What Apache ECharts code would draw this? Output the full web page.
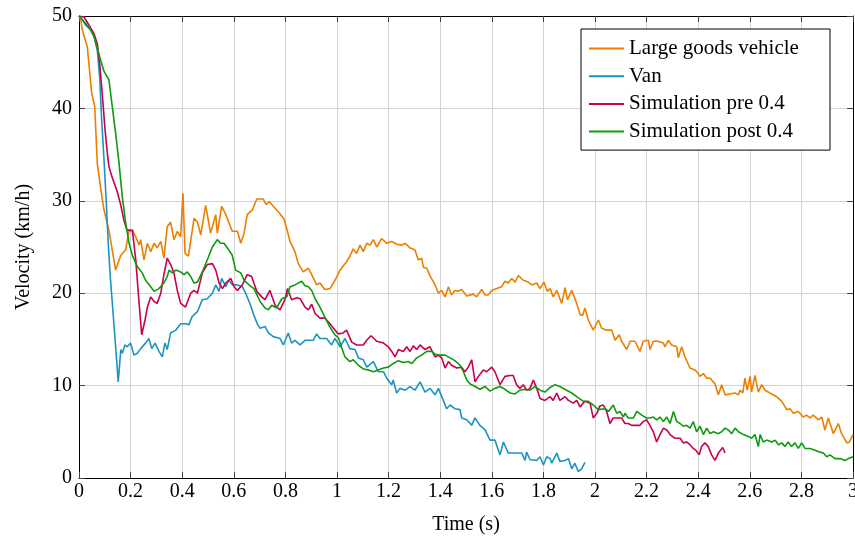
<!DOCTYPE html>
<html>
<head>
<meta charset="utf-8">
<script src="https://cdn.jsdelivr.net/npm/echarts@6/dist/echarts.min.js"></script>
<style>
  html, body { margin: 0; padding: 0; background: #fff; }
  #chart { width: 855px; height: 537px; }
</style>
</head>
<body>
<div id="chart"></div>
<script>
// series names, as in the legend
const seriesNames = ['Large goods vehicle', 'Van', 'Simulation pre 0.4', 'Simulation post 0.4']

// [time (s), velocity (km/h)]
const lgv = [[0, 50], [0.007, 49.6], [0.013, 48.5], [0.032, 46.7], [0.049, 41.7], [0.061, 40.2], [0.071, 34], [0.089, 30.4], [0.097, 29], [0.116, 26.8], [0.142, 22.5], [0.162, 24.1], [0.181, 24.7], [0.194, 26.8], [0.207, 26.8], [0.22, 26.1], [0.233, 25.2], [0.239, 25.8], [0.252, 23.6], [0.265, 25.4], [0.278, 24.5], [0.291, 25.4], [0.303, 24.9], [0.317, 25.6], [0.329, 23.8], [0.342, 27.2], [0.355, 27.7], [0.368, 25.8], [0.381, 26.7], [0.394, 26.1], [0.403, 30.8], [0.411, 24.3], [0.424, 24], [0.446, 28.1], [0.459, 27.7], [0.472, 26.3], [0.491, 29.5], [0.51, 26.5], [0.53, 28.5], [0.536, 26.5], [0.553, 29.4], [0.569, 28.5], [0.594, 26.7], [0.614, 26.7], [0.627, 25.4], [0.64, 26.5], [0.652, 28.5], [0.663, 28.8], [0.672, 29], [0.689, 30.2], [0.7, 30.2], [0.714, 30.2], [0.725, 29.6], [0.738, 29.9], [0.76, 29.2], [0.779, 28.6], [0.795, 28], [0.805, 27], [0.818, 25.6], [0.837, 24.5], [0.85, 23.2], [0.869, 22.3], [0.889, 22.7], [0.902, 22], [0.921, 20.9], [0.934, 21.1], [0.953, 20.4], [0.973, 20.5], [0.992, 21.4], [1.012, 22.5], [1.037, 23.4], [1.05, 24], [1.063, 24.8], [1.076, 24.3], [1.089, 25.2], [1.102, 24.5], [1.115, 25.4], [1.128, 25.2], [1.141, 25.8], [1.154, 25], [1.173, 25.9], [1.193, 25.4], [1.212, 25.6], [1.231, 25.3], [1.251, 25.2], [1.264, 25.4], [1.283, 24.9], [1.302, 24.7], [1.315, 23.6], [1.328, 23.8], [1.335, 22.8], [1.348, 22.7], [1.36, 21.9], [1.38, 20.9], [1.393, 20], [1.406, 20.3], [1.419, 19.6], [1.432, 20.7], [1.444, 19.8], [1.457, 20.3], [1.47, 20.2], [1.483, 20.4], [1.503, 19.7], [1.528, 19.9], [1.541, 19.6], [1.561, 20.4], [1.574, 19.8], [1.586, 19.8], [1.6, 20.3], [1.619, 20.5], [1.638, 20.7], [1.651, 21.3], [1.664, 21.1], [1.677, 21.6], [1.69, 21.2], [1.703, 21.9], [1.722, 21.4], [1.741, 21.2], [1.755, 20.9], [1.774, 21.1], [1.787, 20.5], [1.802, 21.2], [1.815, 20.2], [1.826, 20.5], [1.838, 19.6], [1.852, 20.3], [1.871, 18.9], [1.884, 20.6], [1.893, 19.3], [1.91, 20.3], [1.929, 18.9], [1.942, 17.7], [1.952, 17.6], [1.961, 18.4], [1.974, 17.1], [1.993, 16], [2.013, 17.1], [2.026, 16.2], [2.045, 16], [2.065, 16], [2.078, 14.9], [2.094, 15.5], [2.103, 14.8], [2.123, 13.9], [2.136, 14.8], [2.155, 14.8], [2.174, 13.7], [2.187, 14.8], [2.207, 14.9], [2.213, 13.9], [2.226, 14.8], [2.245, 14.8], [2.265, 14.6], [2.271, 14.2], [2.284, 14.9], [2.297, 14.4], [2.317, 14.2], [2.323, 13], [2.336, 14.2], [2.349, 13.1], [2.368, 11.9], [2.388, 11.7], [2.4, 11.3], [2.407, 11], [2.42, 11.3], [2.433, 10.8], [2.446, 10.8], [2.465, 10.2], [2.478, 9], [2.491, 10.1], [2.504, 9], [2.523, 9.1], [2.543, 9.2], [2.556, 9], [2.562, 9.5], [2.573, 9.2], [2.581, 10.8], [2.59, 9.5], [2.601, 11], [2.607, 9.3], [2.62, 11.1], [2.633, 9.3], [2.646, 10.1], [2.659, 9.5], [2.678, 9.2], [2.704, 8.8], [2.724, 8.3], [2.743, 7.4], [2.756, 7.5], [2.769, 7], [2.788, 7.2], [2.807, 6.6], [2.82, 6.8], [2.833, 6.5], [2.846, 6.8], [2.866, 6.3], [2.879, 6.6], [2.891, 5.2], [2.904, 6.5], [2.924, 4.8], [2.943, 5.9], [2.956, 4.8], [2.976, 3.8], [2.986, 3.9], [3, 4.7]]

const van = [[0, 50], [0.013, 49.6], [0.026, 49], [0.045, 48.5], [0.058, 47.8], [0.071, 46.3], [0.08, 43.4], [0.088, 38.7], [0.097, 34.4], [0.106, 29.7], [0.114, 25], [0.122, 21.5], [0.129, 19], [0.142, 14.2], [0.152, 10.4], [0.162, 13.9], [0.168, 13.5], [0.178, 14.4], [0.187, 14.2], [0.2, 14.6], [0.213, 13.3], [0.226, 13.5], [0.239, 14], [0.258, 14.6], [0.271, 15.1], [0.282, 14], [0.295, 14.6], [0.31, 13.7], [0.323, 13.1], [0.333, 14.6], [0.342, 13.9], [0.355, 15.7], [0.375, 16], [0.394, 16.7], [0.413, 16.7], [0.426, 16.6], [0.439, 17.5], [0.459, 18], [0.478, 19.3], [0.497, 19.4], [0.517, 20], [0.53, 20.9], [0.543, 20.2], [0.553, 21.6], [0.569, 20.7], [0.581, 21.4], [0.594, 20.9], [0.614, 20.9], [0.633, 20.7], [0.646, 20], [0.665, 18.7], [0.678, 17.6], [0.691, 16.7], [0.702, 16.2], [0.721, 16.4], [0.734, 15.7], [0.753, 15.3], [0.779, 15.1], [0.792, 14.4], [0.811, 15.7], [0.824, 14.6], [0.837, 14.9], [0.857, 14.4], [0.876, 14.9], [0.908, 14.9], [0.921, 15.6], [0.934, 15.1], [0.96, 15.1], [0.979, 14.4], [0.992, 15.1], [1.012, 14.2], [1.031, 15.1], [1.05, 14], [1.07, 13.9], [1.083, 13], [1.102, 12.8], [1.115, 12], [1.141, 12.6], [1.16, 11.5], [1.18, 11.5], [1.193, 10.8], [1.212, 10.1], [1.218, 10.6], [1.231, 9.2], [1.244, 9.7], [1.264, 9.5], [1.283, 9.9], [1.302, 9.5], [1.322, 10.4], [1.341, 9.3], [1.36, 9.7], [1.38, 9], [1.393, 9.7], [1.412, 8.4], [1.425, 7.5], [1.438, 7.9], [1.457, 7.5], [1.477, 7.4], [1.483, 6.5], [1.503, 6.3], [1.522, 5.7], [1.535, 6.5], [1.554, 5.7], [1.574, 5.2], [1.593, 4.1], [1.612, 4.1], [1.632, 2.5], [1.645, 3.9], [1.664, 2.7], [1.69, 2.7], [1.716, 2.7], [1.729, 1.9], [1.735, 2.8], [1.748, 2], [1.774, 1.9], [1.787, 2.3], [1.8, 1.4], [1.813, 2.3], [1.826, 2.1], [1.832, 1.6], [1.852, 2.7], [1.864, 1.8], [1.884, 1.9], [1.897, 2.1], [1.91, 1], [1.922, 1.6], [1.935, 0.7], [1.948, 1], [1.961, 1.7]]

const simPre = [[0, 50], [0.019, 49.9], [0.039, 49], [0.058, 48.1], [0.071, 47], [0.08, 44.9], [0.09, 41.6], [0.101, 37.7], [0.11, 35.1], [0.116, 33.7], [0.129, 32.5], [0.148, 31], [0.162, 29.5], [0.174, 27.9], [0.185, 26.9], [0.194, 26.8], [0.207, 26.8], [0.22, 23.6], [0.233, 18.9], [0.243, 15.5], [0.256, 17.1], [0.265, 18.5], [0.278, 19.6], [0.291, 19.1], [0.303, 18.9], [0.317, 20], [0.329, 22], [0.342, 23.8], [0.355, 23.1], [0.368, 22.2], [0.381, 20.3], [0.394, 18.9], [0.413, 18.5], [0.433, 20], [0.446, 20.3], [0.459, 20], [0.478, 22.2], [0.497, 23.1], [0.517, 23.2], [0.53, 22.5], [0.543, 21.1], [0.556, 20.5], [0.569, 21.1], [0.588, 21.6], [0.601, 20.7], [0.614, 20.3], [0.633, 20.9], [0.652, 22], [0.669, 21.8], [0.689, 20.2], [0.708, 19.6], [0.721, 19.3], [0.74, 20.3], [0.76, 18.7], [0.779, 18.2], [0.798, 19.3], [0.808, 20.5], [0.824, 19.3], [0.844, 19.5], [0.857, 19.4], [0.876, 18.5], [0.889, 18.2], [0.902, 18.8], [0.915, 17.8], [0.934, 17.3], [0.953, 17.3], [0.973, 16.7], [0.986, 16.2], [1.005, 15.6], [1.024, 15.7], [1.037, 16], [1.057, 14.7], [1.076, 14.4], [1.102, 14.4], [1.115, 14.9], [1.132, 15.4], [1.154, 14.8], [1.18, 14.6], [1.199, 14.2], [1.212, 13.7], [1.225, 13.1], [1.238, 13.9], [1.257, 13.7], [1.27, 14.2], [1.283, 13.7], [1.296, 14.3], [1.309, 13.9], [1.322, 14.4], [1.341, 13.9], [1.36, 14.2], [1.38, 13.1], [1.393, 13.3], [1.406, 13], [1.419, 11.9], [1.432, 12.6], [1.444, 12.2], [1.464, 11.9], [1.483, 12], [1.496, 11.5], [1.509, 12], [1.522, 12.8], [1.535, 10.4], [1.548, 11], [1.567, 11.7], [1.58, 11.5], [1.6, 12], [1.612, 11.5], [1.632, 10.1], [1.651, 11], [1.671, 11.1], [1.683, 11.1], [1.696, 10.1], [1.709, 9.7], [1.722, 10.1], [1.735, 9.5], [1.748, 9.7], [1.761, 10.6], [1.774, 9.7], [1.787, 8.6], [1.806, 8.4], [1.826, 8.8], [1.838, 8.4], [1.852, 9.2], [1.864, 8.4], [1.884, 8.8], [1.897, 8.4], [1.916, 8.1], [1.929, 8.4], [1.942, 7.7], [1.961, 8.3], [1.981, 8.1], [1.993, 6.5], [2.007, 7], [2.019, 7.8], [2.032, 7.9], [2.045, 7.2], [2.058, 5.9], [2.071, 6.5], [2.084, 6.5], [2.103, 6.5], [2.116, 5.9], [2.129, 5.9], [2.142, 5.7], [2.162, 5.7], [2.174, 5.7], [2.187, 6.1], [2.2, 6.3], [2.213, 5.7], [2.226, 5], [2.239, 3.9], [2.252, 4.7], [2.265, 5.4], [2.278, 5.2], [2.291, 4.7], [2.31, 4.3], [2.33, 4.3], [2.342, 3.8], [2.355, 3.9], [2.368, 3.6], [2.381, 3.2], [2.391, 3], [2.404, 2.5], [2.413, 3.4], [2.426, 3.8], [2.439, 3.4], [2.452, 2.5], [2.465, 1.9], [2.478, 2.7], [2.495, 3.3], [2.504, 2.7]]

const simPost = [[0, 50], [0.007, 49.9], [0.026, 49.2], [0.045, 48.5], [0.058, 47.8], [0.071, 46.5], [0.084, 45.2], [0.097, 44], [0.116, 43.1], [0.129, 40.2], [0.142, 37.3], [0.155, 34.1], [0.168, 30.4], [0.181, 27.6], [0.194, 25.4], [0.207, 24.1], [0.226, 22.9], [0.245, 22.2], [0.258, 21.4], [0.278, 20.7], [0.291, 20.2], [0.31, 20.5], [0.329, 21.1], [0.342, 21.8], [0.349, 22.5], [0.362, 22.2], [0.375, 22.5], [0.394, 22.3], [0.407, 22], [0.42, 22.3], [0.433, 21.8], [0.446, 21.1], [0.459, 21.2], [0.478, 22.3], [0.497, 23.6], [0.517, 25], [0.536, 25.8], [0.549, 25.4], [0.562, 25.4], [0.575, 24.9], [0.594, 24.1], [0.607, 22.5], [0.627, 22.2], [0.64, 21.4], [0.659, 20.9], [0.678, 20.5], [0.702, 19.1], [0.721, 18.4], [0.734, 18.2], [0.747, 18.7], [0.766, 18.4], [0.786, 19.4], [0.805, 19.6], [0.818, 20.7], [0.837, 20.9], [0.863, 21.3], [0.876, 20.8], [0.889, 20.7], [0.902, 20.3], [0.915, 19.4], [0.934, 18.5], [0.953, 17.4], [0.973, 16.3], [0.992, 15.5], [1.005, 15.2], [1.018, 14.1], [1.031, 13.1], [1.05, 12.6], [1.063, 12.8], [1.083, 12.2], [1.102, 11.8], [1.121, 11.7], [1.141, 11.5], [1.16, 11.7], [1.18, 11.9], [1.199, 12], [1.218, 12.4], [1.238, 12.7], [1.257, 12.5], [1.276, 12.6], [1.29, 12.4], [1.309, 13], [1.328, 13.3], [1.348, 13.7], [1.367, 13.7], [1.38, 13.4], [1.399, 13.3], [1.419, 13.3], [1.438, 13], [1.457, 12.7], [1.477, 12.2], [1.49, 11.5], [1.503, 10.6], [1.515, 10.2], [1.535, 9.9], [1.554, 9.6], [1.574, 9.9], [1.593, 9.4], [1.612, 9.7], [1.632, 9.9], [1.651, 9.6], [1.671, 9.2], [1.69, 9.1], [1.709, 9.5], [1.729, 9.6], [1.748, 9.5], [1.767, 9.9], [1.787, 9.5], [1.806, 9.3], [1.826, 9.8], [1.845, 10.1], [1.864, 9.9], [1.89, 9.5], [1.91, 9.2], [1.929, 8.8], [1.955, 8.3], [1.974, 8.3], [1.993, 7.9], [2.013, 7.4], [2.019, 7.2], [2.039, 7.5], [2.052, 7.2], [2.071, 7.9], [2.084, 7], [2.097, 7.2], [2.11, 6.6], [2.116, 7], [2.129, 6.5], [2.149, 6.5], [2.162, 7.2], [2.181, 6.8], [2.2, 6.5], [2.213, 6.5], [2.226, 6.6], [2.239, 6.3], [2.252, 6.6], [2.265, 6.1], [2.278, 6.6], [2.291, 5.9], [2.304, 7.2], [2.317, 6.1], [2.33, 5.9], [2.342, 5.6], [2.355, 5.7], [2.368, 5.4], [2.381, 6.1], [2.394, 5], [2.407, 5.6], [2.42, 4.7], [2.433, 5.4], [2.446, 4.8], [2.459, 5], [2.478, 4.8], [2.491, 5], [2.504, 5.4], [2.517, 5.2], [2.53, 4.8], [2.543, 5.4], [2.556, 5], [2.575, 4.7], [2.594, 4.5], [2.607, 4.3], [2.62, 4.7], [2.633, 3.4], [2.64, 4.7], [2.652, 3.9], [2.665, 4.1], [2.685, 3.9], [2.698, 4.1], [2.711, 3.6], [2.724, 3.8], [2.736, 3.4], [2.749, 3.9], [2.762, 3.4], [2.775, 3.8], [2.788, 3.2], [2.801, 3.8], [2.814, 3.2], [2.833, 3.2], [2.853, 3], [2.872, 2.8], [2.885, 2.7], [2.898, 2.3], [2.911, 2.5], [2.93, 2.1], [2.95, 2.1], [2.969, 1.9], [2.982, 2.1], [3, 2.3]]

const colors = ['#ec7f00', '#1a95c1', '#c8004f', '#0d9b0d']
const font = '"Liberation Serif", "DejaVu Serif", serif'

const chart = echarts.init(document.getElementById('chart'), null, { renderer: 'canvas' })

const tick = { show: true, inside: true, length: 6, lineStyle: { color: '#444', width: 1 } }
const grid = { show: true, lineStyle: { color: '#d3d3d3', width: 1 } }

const option = {
  animation: false,
  color: colors,
  textStyle: { fontFamily: font },
  grid: { left: 79, right: 2, top: 16, bottom: 59, containLabel: false, outerBoundsMode: 'none' },
  legend: {
    orient: 'vertical',
    left: 581,
    top: 29,
    icon: 'rect',
    itemWidth: 35,
    itemHeight: 2,
    itemGap: 6.7,
    padding: [9, 8, 8, 8],
    borderColor: '#000',
    borderWidth: 1,
    borderRadius: 0,
    backgroundColor: '#fff',
    textStyle: { fontFamily: font, fontSize: 21, color: '#000', width: 193, lineHeight: 20 },
    data: seriesNames
  },
  xAxis: [
    {
      type: 'value',
      min: 0,
      max: 3,
      interval: 0.2,
      name: 'Time (s)',
      nameLocation: 'middle',
      nameGap: 37,
      nameTextStyle: { fontFamily: font, fontSize: 20, color: '#000' },
      axisLine: { show: true, onZero: false, lineStyle: { color: '#000', width: 1 } },
      axisTick: tick,
      axisLabel: {
        fontFamily: font, fontSize: 20, color: '#000', margin: 4,
        formatter: v => String(+v.toFixed(1))
      },
      splitLine: grid
    },
    {
      type: 'value',
      position: 'top',
      min: 0,
      max: 3,
      interval: 0.2,
      axisLine: { show: true, onZero: false, lineStyle: { color: '#000', width: 1 } },
      axisTick: tick,
      axisLabel: { show: false },
      splitLine: { show: false }
    }
  ],
  yAxis: [
    {
      type: 'value',
      min: 0,
      max: 50,
      interval: 10,
      name: 'Velocity (km/h)',
      nameLocation: 'middle',
      nameGap: 45,
      nameRotate: 90,
      nameTextStyle: { fontFamily: font, fontSize: 20, color: '#000' },
      axisLine: { show: true, onZero: false, lineStyle: { color: '#000', width: 1 } },
      axisTick: tick,
      axisLabel: { fontFamily: font, fontSize: 20, color: '#000', margin: 7 },
      splitLine: grid
    },
    {
      type: 'value',
      position: 'right',
      min: 0,
      max: 50,
      interval: 10,
      axisLine: { show: true, onZero: false, lineStyle: { color: '#000', width: 1 } },
      axisTick: tick,
      axisLabel: { show: false },
      splitLine: { show: false }
    }
  ],
  series: [lgv, van, simPre, simPost].map((d, i) => ({
    name: seriesNames[i],
    type: 'line',
    data: d,
    xAxisIndex: 0,
    yAxisIndex: 0,
    symbol: 'none',
    showSymbol: false,
    lineStyle: { width: 1.6, color: colors[i] },
    itemStyle: { color: colors[i] }
  }))
}

chart.setOption(option)
</script>
</body>
</html>
